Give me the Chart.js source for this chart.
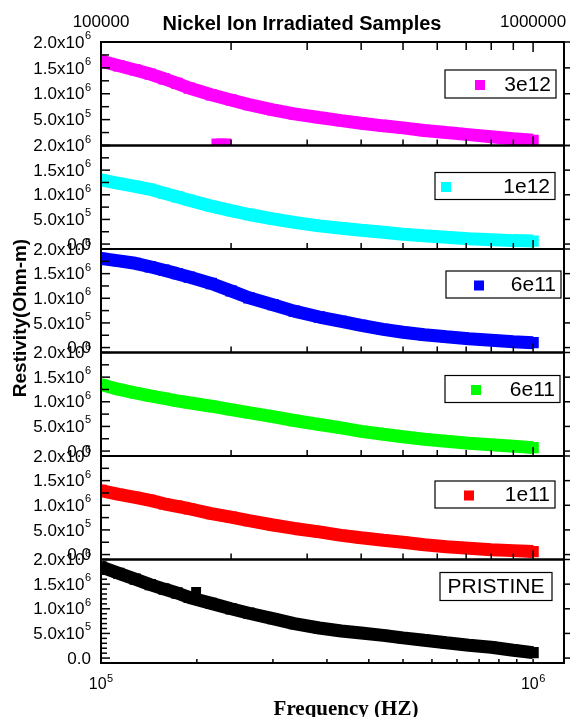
<!DOCTYPE html>
<html>
<head>
<meta charset="utf-8">
<script src="https://cdn.jsdelivr.net/npm/chart.js@4.4.1/dist/chart.umd.min.js"></script>
<style>
html,body{margin:0;padding:0;background:#fff;}
#wrap{position:relative;width:572px;height:717px;}
</style>
</head>
<body>
<div id="wrap"><canvas id="c" width="572" height="717"></canvas></div>
<script>
// ---------- data ----------
const frequencies = [100000,110000,120000,130000,140000,150000,160000,180000,200000,220000,250000,280000,320000,360000,400000,450000,500000,560000,630000,710000,800000,900000,1000000];

const rho3e12   = [1.63e6,1.54e6,1.46e6,1.38e6,1.29e6,1.20e6,1.11e6,0.98e6,0.88e6,0.79e6,0.69e6,0.61e6,0.54e6,0.48e6,0.43e6,0.38e6,0.34e6,0.29e6,0.25e6,0.21e6,0.17e6,0.13e6,0.10e6];
const rho1e12   = [1.30e6,1.23e6,1.17e6,1.11e6,1.03e6,0.96e6,0.89e6,0.77e6,0.68e6,0.60e6,0.51e6,0.44e6,0.37e6,0.32e6,0.28e6,0.24e6,0.20e6,0.17e6,0.14e6,0.11e6,0.09e6,0.07e6,0.06e6];
const rho6e11a  = [1.81e6,1.76e6,1.71e6,1.64e6,1.57e6,1.50e6,1.43e6,1.30e6,1.15e6,1.01e6,0.87e6,0.74e6,0.62e6,0.53e6,0.45e6,0.37e6,0.31e6,0.26e6,0.22e6,0.18e6,0.15e6,0.12e6,0.10e6];
const rho6e11b  = [1.35e6,1.25e6,1.18e6,1.12e6,1.07e6,1.02e6,0.98e6,0.91e6,0.84e6,0.78e6,0.70e6,0.62e6,0.54e6,0.47e6,0.40e6,0.34e6,0.29e6,0.24e6,0.20e6,0.16e6,0.13e6,0.10e6,0.07e6];
const rho1e11   = [1.30e6,1.22e6,1.16e6,1.10e6,1.03e6,0.98e6,0.93e6,0.83e6,0.76e6,0.69e6,0.60e6,0.53e6,0.46e6,0.39e6,0.34e6,0.29e6,0.25e6,0.20e6,0.16e6,0.13e6,0.10e6,0.08e6,0.06e6];
const rhoPristine = [1.85e6,1.72e6,1.60e6,1.49e6,1.40e6,1.32e6,1.23e6,1.11e6,1.00e6,0.91e6,0.80e6,0.70e6,0.61e6,0.55e6,0.51e6,0.46e6,0.41e6,0.36e6,0.31e6,0.26e6,0.22e6,0.16e6,0.11e6];

// stray points
const outlier3e12Freq = [185000,190000,195000];
const outlier3e12Rho  = [0.04e6,0.04e6,0.04e6];
const outlierPristineFreq = [166000];
const outlierPristineRho  = [1.34e6];

const seriesLabels = ['3e12','1e12','6e11','6e11','1e11','PRISTINE'];
const seriesColors = ['#FF00FF','#00FFFF','#0000FF','#00FF00','#FF0000','#000000'];
const seriesValues = [rho3e12, rho1e12, rho6e11a, rho6e11b, rho1e11, rhoPristine];

// ticks / labels
const yTickValues = [0, 5e5, 1e6, 1.5e6, 2e6];
const yTickMain = ['0.0', '5.0x10', '1.0x10', '1.5x10', '2.0x10'];
const yTickSup  = ['', '5', '6', '6', '6'];
const xBottomTickValues = [1e5, 1e6];
const xBottomTickMain = ['10', '10'];
const xBottomTickSup  = ['5', '6'];
const xTopTickValues = [1e5, 1e6];
const xTopTickLabels = ['100000', '1000000'];
const logMinorTicks = [2e5,3e5,4e5,5e5,6e5,7e5,8e5,9e5];
const bottomAxisTicks = [166667,250000,333333,416667,500000,583333,666667,750000,833333,916667,1000000];

const titleText = 'Nickel Ion Irradiated Samples';
const xTitleText = 'Frequency (HZ)';
const yTitleText = 'Restivity(Ohm-m)';

// ---------- layout constants ----------
const panelIds = ['y1','y2','y3','y4','y5','y6'];
const panelMin = [0, -1e5, -1e5, -1e5, -1e5, -1e5];
const X_MIN = 1e5, X_MAX = 1179000;
const SANS = '"Liberation Sans", Arial, Helvetica, sans-serif';
const SERIF = '"Liberation Serif", "Times New Roman", serif';
const legendLayout = [
  {dy:28, h:28, left:119, right:8,  markerDx:35},
  {dy:27, h:27, left:129, right:9,  markerDx:11},
  {dy:22, h:27, left:118, right:3,  markerDx:33},
  {dy:23, h:27, left:119, right:4,  markerDx:31},
  {dy:25, h:27, left:129, right:9,  markerDx:34},
  {dy:13, h:28, left:124, right:12, markerDx:null}
];

Chart.defaults.font.family = SANS;
Chart.defaults.color = '#000';

// ---------- datasets ----------
const datasets = seriesValues.map((vals, i) => ({
  label: seriesLabels[i],
  data: frequencies.map((f, k) => ({x: f, y: vals[k]})),
  xAxisID: 'x',
  yAxisID: panelIds[i],
  borderColor: seriesColors[i],
  backgroundColor: seriesColors[i],
  borderWidth: 13,
  borderCapStyle: 'butt',
  borderJoinStyle: 'bevel',
  pointStyle: 'rect',
  pointRadius: 8,
  pointHoverRadius: 8,
  pointBorderWidth: 0,
  showLine: true,
  tension: 0
}));
datasets.push({
  label: '3e12 stray',
  data: outlier3e12Freq.map((f, k) => ({x: f, y: outlier3e12Rho[k]})),
  xAxisID: 'x', yAxisID: 'y1',
  backgroundColor: seriesColors[0], borderColor: seriesColors[0],
  pointStyle: 'rect', pointRadius: 7, pointBorderWidth: 0, showLine: false
});
datasets.push({
  label: 'PRISTINE stray',
  data: outlierPristineFreq.map((f, k) => ({x: f, y: outlierPristineRho[k]})),
  xAxisID: 'x', yAxisID: 'y6',
  backgroundColor: seriesColors[5], borderColor: seriesColors[5],
  pointStyle: 'rect', pointRadius: 7, pointBorderWidth: 0, showLine: false
});

// ---------- scales ----------
function noPad(s){ s.paddingLeft = 0; s.paddingRight = 0; s.paddingTop = 0; s.paddingBottom = 0; }
const scales = {
  x: {
    type: 'logarithmic', position: 'bottom', min: X_MIN, max: X_MAX,
    grid: {display: false, drawTicks: false}, border: {display: false},
    afterBuildTicks: s => { s.ticks = xBottomTickValues.map(v => ({value: v})); },
    ticks: {display: false},
    afterFit: s => { s.height = 54; noPad(s); }
  },
  xTop: {
    type: 'logarithmic', position: 'top', min: X_MIN, max: X_MAX,
    grid: {display: false, drawTicks: false}, border: {display: false},
    afterBuildTicks: s => { s.ticks = xTopTickValues.map(v => ({value: v})); },
    ticks: {autoSkip: false, maxRotation: 0, padding: 9, font: {size: 17}, color: '#000',
            callback: (v, idx) => xTopTickLabels[idx]},
    afterFit: s => { s.height = 42; noPad(s); }
  }
};
panelIds.forEach((id, i) => {
  const vals = i === 0 ? yTickValues.slice(1) : yTickValues;
  scales[id] = {
    type: 'linear', position: 'left', stack: 'rho', stackWeight: 1, weight: 6 - i,
    min: panelMin[i], max: 2e6,
    grid: {display: false, drawTicks: false}, border: {display: false},
    afterBuildTicks: s => { s.ticks = vals.map(v => ({value: v})); },
    ticks: {display: false},
    afterFit: s => { s.width = 101; noPad(s); }
  };
});

// text with superscript, right-aligned or centred
function supText(ctx, main, sup, x, y, align, mainSize, supSize, supRise) {
  ctx.font = mainSize + 'px ' + SANS;
  const wm = ctx.measureText(main).width;
  ctx.font = supSize + 'px ' + SANS;
  const ws = sup ? ctx.measureText(sup).width + 0.5 : 0;
  const total = wm + ws;
  const x0 = align === 'right' ? x - total : x - total / 2;
  ctx.textAlign = 'left';
  ctx.textBaseline = 'middle';
  ctx.font = mainSize + 'px ' + SANS;
  ctx.fillText(main, x0, y);
  if (sup) {
    ctx.font = supSize + 'px ' + SANS;
    ctx.fillText(sup, x0 + wm + 0.5, y - supRise);
  }
}

// ---------- decorations ----------
const decor = {
  id: 'decor',
  afterDatasetsDraw(chart) {
    const {ctx, chartArea: a, scales: sc} = chart;
    const xs = sc.x;
    const seg = (x1, y1, x2, y2) => { ctx.beginPath(); ctx.moveTo(x1, y1); ctx.lineTo(x2, y2); ctx.stroke(); };
    ctx.save();
    ctx.strokeStyle = '#000';
    ctx.lineWidth = 1.5;
    panelIds.forEach((id, i) => {
      const s = sc[id];
      const step = i === 5 ? 1e5 : 2.5e5;
      for (let v = 0; v <= 2e6; v += step) {
        const y = s.getPixelForValue(v);
        const major = (v % 5e5) === 0;
        seg(a.left, y, a.left + (major ? 9 : (i === 5 ? 6 : 8)), y);
      }
      yTickValues.forEach(v => { const y = s.getPixelForValue(v); seg(a.right, y, a.right + 6, y); });
      if (i < 5) {
        logMinorTicks.forEach(f => { const x = xs.getPixelForValue(f); seg(x, s.bottom, x, s.bottom - 6); });
        const x1 = xs.getPixelForValue(1e6); seg(x1, s.bottom, x1, s.bottom - 9);
      }
    });
    logMinorTicks.forEach(f => { const x = xs.getPixelForValue(f); seg(x, a.top, x, a.top + 8); });
    { const x1 = xs.getPixelForValue(1e6); seg(x1, a.top, x1, a.top + 10); }
    bottomAxisTicks.forEach(f => { const x = xs.getPixelForValue(f); seg(x, a.bottom, x, a.bottom - 4); });

    // frames
    ctx.lineWidth = 2;
    panelIds.forEach(id => { const s = sc[id]; ctx.strokeRect(a.left, s.top, a.right - a.left, s.bottom - s.top); });

    // y tick labels (from each panel scale's ticks)
    ctx.fillStyle = '#000';
    panelIds.forEach(id => {
      const s = sc[id];
      s.ticks.forEach(t => {
        const k = yTickValues.indexOf(t.value);
        const y = s.getPixelForValue(t.value);
        supText(ctx, yTickMain[k], yTickSup[k], a.left - 10, y + 1, 'right', 17, 11, 7);
      });
    });
    // bottom x tick labels
    xs.ticks.forEach((t, k) => {
      const x = xs.getPixelForValue(t.value);
      supText(ctx, xBottomTickMain[k], xBottomTickSup[k], x, a.bottom + 22, 'center', 16, 11, 6);
    });

    // legends
    ctx.lineWidth = 1.2;
    panelIds.forEach((id, i) => {
      const s = sc[id], L = legendLayout[i];
      const bx = a.right - L.left, bw = L.left - L.right, by = s.top + L.dy;
      ctx.fillStyle = '#fff';
      ctx.fillRect(bx, by, bw, L.h);
      ctx.strokeRect(bx, by, bw, L.h);
      const cy = by + L.h / 2 + 1;
      ctx.font = '21px ' + SANS;
      ctx.textBaseline = 'middle';
      if (L.markerDx !== null) {
        ctx.fillStyle = seriesColors[i];
        ctx.fillRect(bx + L.markerDx - 5, cy - 5, 10, 10);
        ctx.fillStyle = '#000';
        ctx.textAlign = 'right';
        ctx.fillText(seriesLabels[i], bx + bw - 5, cy);
      } else {
        ctx.fillStyle = '#000';
        ctx.textAlign = 'center';
        ctx.fillText(seriesLabels[i], bx + bw / 2, cy);
      }
    });

    // titles
    ctx.fillStyle = '#000';
    ctx.textAlign = 'center';
    ctx.textBaseline = 'middle';
    ctx.font = 'bold 20px ' + SANS;
    ctx.fillText(titleText, 302, 24);
    ctx.font = 'bold 21px ' + SERIF;
    ctx.textBaseline = 'alphabetic';
    ctx.fillText(xTitleText, 346, 715);
    ctx.save();
    ctx.translate(21, 318);
    ctx.rotate(-Math.PI / 2);
    ctx.textBaseline = 'middle';
    ctx.font = 'bold 19px ' + SANS;
    ctx.fillText(yTitleText, 0, 0);
    ctx.restore();
    ctx.restore();
  }
};

new Chart(document.getElementById('c'), {
  type: 'line',
  data: {datasets},
  options: {
    responsive: false,
    devicePixelRatio: 1,
    animation: false,
    layout: {padding: {left: 0, right: 6, top: 0, bottom: 0}},
    plugins: {legend: {display: false}, tooltip: {enabled: false}, title: {display: false}},
    events: [],
    scales
  },
  plugins: [decor]
});
</script>
</body>
</html>
